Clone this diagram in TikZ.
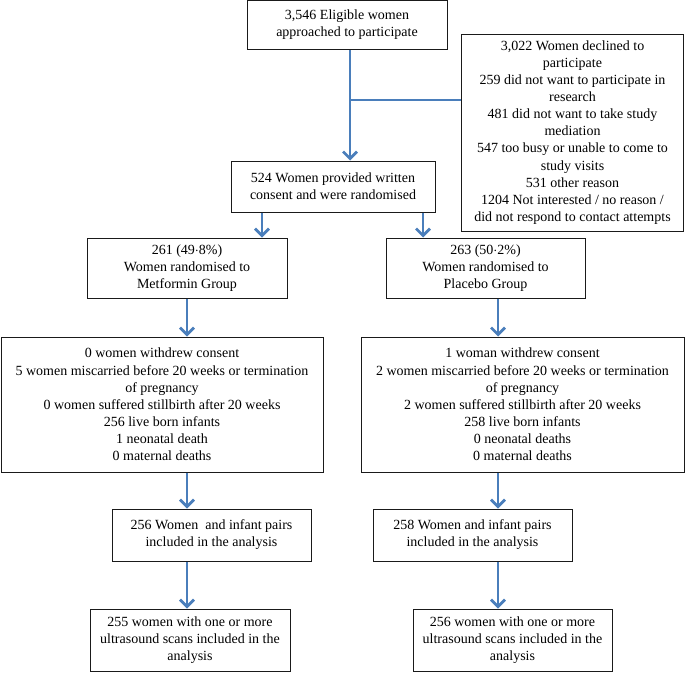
\documentclass[tikz,border=0pt]{standalone}
\usepackage{fontspec}
\setmainfont{Liberation Serif}
\usepackage{xcolor}
\usetikzlibrary{arrows.meta}
\definecolor{vdarkgray}{HTML}{1a1a1a}
\definecolor{vblue}{HTML}{4a7ebb}

\tikzset{
	box/.style={draw=vdarkgray, line width=1pt, align=center, inner sep=0pt, font=\fontsize{14}{17.1}\selectfont},
	link/.style={color=vblue, line width=2.8pt},
	linkarrow/.style={link, -{Straight Barb[length=7pt,width=14pt]}}
}

\begin{document}
\begin{tikzpicture}[x=1pt, y=-1pt]
		\useasboundingbox (0,0) rectangle (685,672);
		% enrolment
		\node[box, minimum width=200, minimum height=49] (eligible) at (347,25) {3,546 Eligible women\\approached to participate};
		\node[box, minimum width=222, minimum height=197] (declined) at (572.5,132.5) {3,022 Women declined to\\participate\\259 did not want to participate in\\research\\481 did not want to take study\\mediation\\547 too busy or unable to come to\\study visits\\531 other reason\\1204 Not interested / no reason /\\did not respond to contact attempts};
		\node[box, minimum width=204, minimum height=51] (consent) at (333,186.5) {524 Women provided written\\consent and were randomised};
		% allocation
		\node[box, minimum width=200, minimum height=60] (metformin) at (187,268) {261 (49$\cdot$8\%)\\Women randomised to\\Metformin Group};
		\node[box, minimum width=199, minimum height=60] (placebo) at (485.5,268) {263 (50$\cdot$2\%)\\Women randomised to\\Placebo Group};
		% follow-up
		\node[box, minimum width=322, minimum height=135] (outcomesM) at (162,404.5) {0 women withdrew consent\\5 women miscarried before 20 weeks or termination\\of pregnancy\\0 women suffered stillbirth after 20 weeks\\256 live born infants\\1 neonatal death\\0 maternal deaths};
		\node[box, minimum width=323, minimum height=135] (outcomesP) at (522.5,404.5) {1 woman withdrew consent\\2 women miscarried before 20 weeks or termination\\of pregnancy\\2 women suffered stillbirth after 20 weeks\\258 live born infants\\0 neonatal deaths\\0 maternal deaths};
		% analysis
		\node[box, minimum width=199, minimum height=52] (analysisM) at (211.5,535) {256 Women~ and infant pairs\\included in the analysis};
		\node[box, minimum width=199, minimum height=52] (analysisP) at (472.5,535) {258 Women and infant pairs\\included in the analysis};
		\node[box, minimum width=200, minimum height=62] (scansM) at (190,640) {255 women with one or more\\ultrasound scans included in the\\analysis};
		\node[box, minimum width=199, minimum height=62] (scansP) at (512.5,640) {256 women with one or more\\ultrasound scans included in the\\analysis};
		\coordinate (branch) at ([xshift=3pt]eligible.south |- 0,100);
		\coordinate (trackP) at ([xshift=12.5pt]placebo.south);
		\draw[linkarrow] ([xshift=3pt]eligible.south) -- ([xshift=3pt]eligible.south |- consent.north);
		\draw[link] (branch) -- (branch -| declined.west);
		\draw[linkarrow] ([xshift=-71pt]consent.south) -- ([xshift=-71pt]consent.south |- metformin.north);
		\draw[linkarrow] ([xshift=90pt]consent.south) -- ([xshift=90pt]consent.south |- placebo.north);
		\draw[linkarrow] (metformin.south) -- (metformin.south |- outcomesM.north);
		\draw[linkarrow] (metformin.south |- outcomesM.south) -- (metformin.south |- analysisM.north);
		\draw[linkarrow] (metformin.south |- analysisM.south) -- (metformin.south |- scansM.north);
		\draw[linkarrow] (trackP) -- (trackP |- outcomesP.north);
		\draw[linkarrow] (trackP |- outcomesP.south) -- (trackP |- analysisP.north);
		\draw[linkarrow] (trackP |- analysisP.south) -- (trackP |- scansP.north);
	\end{tikzpicture}
\end{document}
